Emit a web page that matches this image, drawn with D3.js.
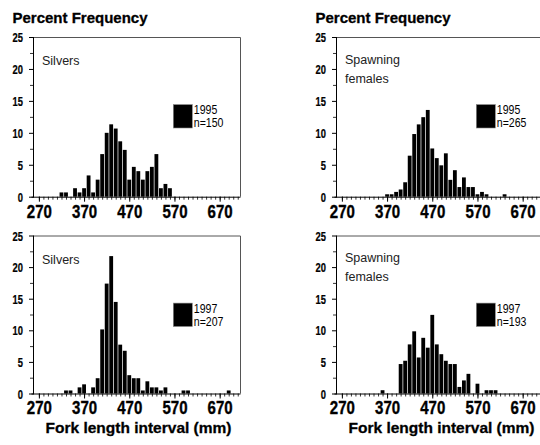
<!DOCTYPE html>
<html>
<head>
<meta charset="utf-8">
<script src="https://cdn.jsdelivr.net/npm/d3@7"></script>
<style>
  html, body { margin: 0; padding: 0; background: #fff; }
  svg { display: block; }
</style>
</head>
<body>
<svg id="chart" width="540" height="445"></svg>
<script>
// ---- Data (percent frequency per 10 mm fork-length interval; bin centers in mm) ----
const silvers1995Bins = [320,330,350,360,370,380,390,400,410,420,430,440,450,460,470,480,490,500,510,520,530,540,550,560];
const silvers1995Pct  = [0.67,0.67,1.33,0.67,1.33,3.33,0.67,2.67,6.67,10,11.33,10.67,8.67,7.33,2.67,4.67,4,2.67,4,4.67,6.67,1.33,2,1.33];

const females1995Bins = [370,380,390,400,410,420,430,440,450,460,470,480,490,500,510,520,530,540,550,560,570,580,590,630];
const females1995Pct  = [0.38,0.38,0.75,1.13,2.26,6.42,9.81,11.32,12.45,13.58,7.55,6.04,4.91,6.79,2.64,4.15,1.51,3.02,1.51,1.51,0.38,0.75,0.38,0.38];

const silvers1997Bins = [330,340,360,370,390,400,410,420,430,440,450,460,470,480,490,500,510,520,530,540,550,590,600,690];
const silvers1997Pct  = [0.48,0.48,0.97,1.45,0.97,2.42,10.14,17.39,21.74,14.49,7.73,6.76,2.9,2.42,2.42,0.48,1.93,0.97,0.97,0.48,0.97,0.48,0.48,0.48];

const females1997Bins = [360,400,410,420,430,440,450,460,470,480,490,500,510,520,530,540,550,570,590,600,610];
const females1997Pct  = [0.52,4.66,5.18,7.77,9.84,5.7,8.81,7.25,12.44,7.77,6.22,5.18,4.66,4.66,1.04,2.07,3.11,1.55,0.52,0.52,0.52];

const xTickLabels = [270, 370, 470, 570, 670];
const yTickLabels = [0, 5, 10, 15, 20, 25];
const groupLabels = ["Silvers", "Spawning\nfemales"];
const years = ["1995", "1997"];
const sampleSizes = ["n=150", "n=265", "n=207", "n=193"];
const yTitle = "Percent Frequency";
const xTitle = "Fork length interval (mm)";

// ---- Layout ----
const svg = d3.select("#chart");
const FONT = "'Liberation Sans', Arial, Helvetica, sans-serif";
const plotW = 207;
const binWidth = 10;
const xDomain = [257, 715];
const yDomain = [0, 25];

const panels = [
  { bins: silvers1995Bins, pct: silvers1995Pct, ox: 33,  top: 37,    bottom: 196.7, label: groupLabels[0], year: years[0], n: sampleSizes[0], showTitleY: true,  showTitleX: false },
  { bins: females1995Bins, pct: females1995Pct, ox: 336, top: 37,    bottom: 196.7, label: groupLabels[1], year: years[0], n: sampleSizes[1], showTitleY: true,  showTitleX: false },
  { bins: silvers1997Bins, pct: silvers1997Pct, ox: 33,  top: 235.5, bottom: 393.5, label: groupLabels[0], year: years[1], n: sampleSizes[2], showTitleY: false, showTitleX: true },
  { bins: females1997Bins, pct: females1997Pct, ox: 336, top: 235.5, bottom: 393.5, label: groupLabels[1], year: years[1], n: sampleSizes[3], showTitleY: false, showTitleX: true }
];

panels.forEach(p => {
  const g = svg.append("g");
  const x = d3.scaleLinear().domain(xDomain).range([p.ox, p.ox + plotW]);
  const y = d3.scaleLinear().domain(yDomain).range([p.bottom, p.top]);

  // Frame (top & right)
  g.append("path")
    .attr("d", `M${p.ox},${p.top + 0.5}H${p.ox + plotW + 0.5}V${p.bottom}`)
    .attr("fill", "none").attr("stroke", "#555").attr("stroke-width", 1);

  // Bars
  const data = p.bins.map((c, i) => ({ c, v: p.pct[i] }));
  g.selectAll("rect.bar").data(data).enter().append("rect")
    .attr("class", "bar")
    .attr("x", d => x(d.c - binWidth / 2) + 0.35)
    .attr("width", d => x(d.c + binWidth / 2) - x(d.c - binWidth / 2) - 0.7)
    .attr("y", d => y(d.v))
    .attr("height", d => y(0) - y(d.v))
    .attr("fill", "#000");

  // X axis: minor ticks every 10 mm, major at labels
  const minorX = d3.range(270, 711, 10);
  const xAxisMinor = d3.axisBottom(x).tickValues(minorX).tickSize(3).tickFormat("");
  const gxm = g.append("g").attr("transform", `translate(0,${p.bottom})`).call(xAxisMinor);
  gxm.select(".domain").remove();
  gxm.selectAll(".tick line").attr("stroke", "#000").attr("stroke-width", 0.8);

  const xAxisMajor = d3.axisBottom(x).tickValues(xTickLabels).tickSize(5).tickPadding(4).tickFormat(d3.format("d"));
  const gx = g.append("g").attr("transform", `translate(0,${p.bottom})`).call(xAxisMajor);
  gx.select(".domain").remove();
  gx.selectAll(".tick line").attr("stroke", "#000").attr("stroke-width", 1);
  gx.selectAll(".tick text")
    .attr("font-family", FONT).attr("font-weight", "bold").attr("font-size", 17.5)
    .attr("fill", "#000").attr("stroke", "#000").attr("stroke-width", 0.35)
    .attr("dy", null).attr("y", 0)
    .attr("transform", "translate(0,20.8) scale(0.86,1)");

  g.append("line")
    .attr("x1", p.ox - 1.5).attr("x2", p.ox + plotW + 0.5)
    .attr("y1", p.bottom + 0.5).attr("y2", p.bottom + 0.5)
    .attr("stroke", "#000").attr("stroke-width", 1);

  // Y axis: minor every 2.5, major every 5
  const yAxisMinor = d3.axisLeft(y).tickValues(d3.range(2.5, 25, 5)).tickSize(3).tickFormat("");
  const gym = g.append("g").attr("transform", `translate(${p.ox},0)`).call(yAxisMinor);
  gym.select(".domain").remove();
  gym.selectAll(".tick line").attr("stroke", "#000").attr("stroke-width", 0.8);

  const yAxis = d3.axisLeft(y).tickValues(yTickLabels).tickSize(4).tickPadding(3).tickFormat(d3.format("d"));
  const gy = g.append("g").attr("transform", `translate(${p.ox},0)`).call(yAxis);
  gy.select(".domain").remove();
  gy.selectAll(".tick line").attr("stroke", "#000");
  gy.selectAll(".tick text")
    .attr("font-family", FONT).attr("font-weight", "bold").attr("font-size", 13)
    .attr("fill", "#000").attr("stroke", "#000").attr("stroke-width", 0.25)
    .attr("x", 0).attr("dy", "0.36em")
    .attr("transform", "translate(-10,0) scale(0.72,1)");

  g.append("line")
    .attr("x1", p.ox + 0.5).attr("x2", p.ox + 0.5)
    .attr("y1", p.top).attr("y2", p.bottom + 1)
    .attr("stroke", "#000").attr("stroke-width", 1);

  // Group label
  const lines = p.label.split("\n");
  const lt = g.append("text")
    .attr("font-family", FONT).attr("font-size", 12.5).attr("fill", "#222");
  lines.forEach((ln, i) => {
    lt.append("tspan").attr("x", p.ox + 9).attr("y", p.top + (lines.length > 1 ? 26.5 : 28) + i * 19).text(ln);
  });

  // Legend
  const lx = p.ox + 140.3, ly = p.top + 67.6;
  g.append("rect").attr("x", lx).attr("y", ly).attr("width", 19).attr("height", 23.4)
    .attr("fill", "#000").attr("stroke", "#888").attr("stroke-width", 0.6);
  [p.year, p.n].forEach((t, i) => {
    g.append("text").attr("x", lx + 20.5).attr("y", ly + 9.8 + i * 12.7)
      .attr("font-family", FONT).attr("font-size", 12).attr("fill", "#000")
      .attr("transform", `translate(${lx + 20.5},0) scale(0.88,1) translate(${-(lx + 20.5)},0)`)
      .text(t);
  });

  // Titles
  if (p.showTitleY) {
    g.append("text").attr("x", p.ox - 20.5).attr("y", 22.5)
      .attr("font-family", FONT).attr("font-weight", "bold").attr("font-size", 15).attr("fill", "#000")
      .attr("stroke", "#000").attr("stroke-width", 0.3)
      .text(yTitle);
  }
  if (p.showTitleX) {
    g.append("text").attr("x", p.ox + plotW / 2 + 2).attr("y", 433)
      .attr("text-anchor", "middle")
      .attr("font-family", FONT).attr("font-weight", "bold").attr("font-size", 15.5).attr("fill", "#000")
      .attr("stroke", "#000").attr("stroke-width", 0.3)
      .text(xTitle);
  }
});
</script>
</body>
</html>
